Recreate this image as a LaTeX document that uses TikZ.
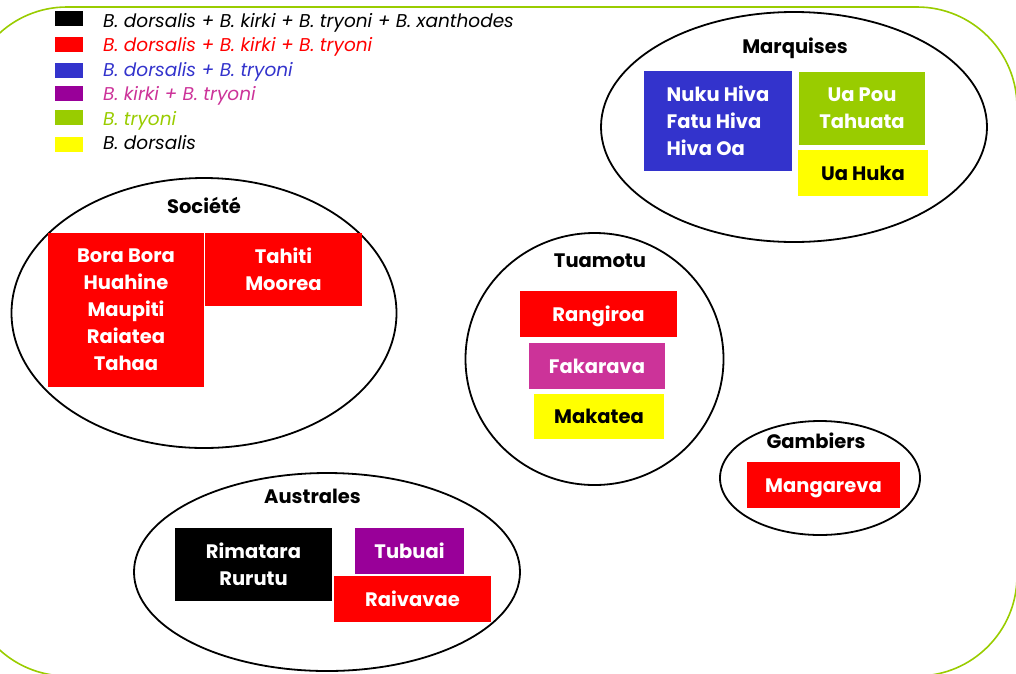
\documentclass[tikz,border=0pt]{standalone}
\usepackage{fontspec}
\setmainfont{Poppins}
\usetikzlibrary{shapes.geometric}
\definecolor{cgreen}{HTML}{99CC00}
\definecolor{cred}{HTML}{FF0000}
\definecolor{cblue}{HTML}{3333CC}
\definecolor{cpurple}{HTML}{990099}
\definecolor{cmagenta}{HTML}{CC3399}
\definecolor{cyellow}{HTML}{FFFF00}
\tikzset{
  frame/.style={draw=cgreen, line width=1.6pt, rounded corners=100pt},
  isle/.style={ellipse, draw=black, line width=1.8pt, inner sep=0pt},
  title/.style={anchor=base, font=\fontsize{19.5}{22}\selectfont\bfseries, text=black, inner sep=0pt},
  box/.style={rectangle, inner sep=0pt, text=white, align=center,
    font=\fontsize{19.5}{27}\selectfont\bfseries},
  one/.style={text height=14pt, text depth=0pt},
  swatch/.style={rectangle, inner sep=0pt, minimum width=28pt, minimum height=15pt},
  legtext/.style={anchor=base west, inner sep=0pt, font=\fontsize{18.5}{20}\selectfont\itshape}
}
\begin{document}
\begin{tikzpicture}[x=1pt,y=-1pt]
\useasboundingbox (0,0) rectangle (1016,673);
\begin{scope}
\clip (0,0) rectangle (1016,673);
\draw[frame] (-33,7) rectangle (1017,676);
\end{scope}

% legend
\node[swatch, fill=black]   (s1) at (69,18.5) {};
\node[swatch, fill=cred]    (s2) at (69,44.5) {};
\node[swatch, fill=cblue]   (s3) at (69,70) {};
\node[swatch, fill=cpurple] (s4) at (69,93.5) {};
\node[swatch, fill=cgreen]  (s5) at (69,117.5) {};
\node[swatch, fill=cyellow] (s6) at (69,144.5) {};
\node[legtext, text=black]    (l1) at (103,27) {B. dorsalis + B. kirki + B. tryoni + B. xanthodes};
\node[legtext, text=cred]     (l2) at (103,51.5) {B. dorsalis + B. kirki + B. tryoni};
\node[legtext, text=cblue]    (l3) at (103,76) {B. dorsalis + B. tryoni};
\node[legtext, text=cmagenta] (l4) at (103,100.5) {B. kirki + B. tryoni};
\node[legtext, text=cgreen]   (l5) at (103,125) {B. tryoni};
\node[legtext, text=black]    (l6) at (103,149) {B. dorsalis};

% Marquises
\node[isle, minimum width=386pt, minimum height=230pt] (marq) at (794,127) {};
\node[title] (tmarq) at (795,53) {Marquises};
\node[box, fill=cblue, minimum width=148pt, minimum height=100pt, align=left] (nuku) at (718,121) {Nuku Hiva\\Fatu Hiva\\Hiva Oa};
\node[box, fill=cgreen, minimum width=126pt, minimum height=73pt] (uapou) at (862,108.5) {Ua Pou\\Tahuata};
\node[box, one, fill=cyellow, text=black, minimum width=130pt, minimum height=46pt] (uahuka) at (863,173) {Ua Huka};

% Societe
\node[isle, minimum width=385pt, minimum height=270pt] (soc) at (204,313) {};
\node[title] (tsoc) at (204,213) {Société};
\node[box, fill=cred, minimum width=156pt, minimum height=154pt] (bora) at (126,310) {Bora Bora\\Huahine\\Maupiti\\Raiatea\\Tahaa};
\node[box, fill=cred, minimum width=157pt, minimum height=73pt] (tahiti) at (283.5,269.5) {Tahiti\\Moorea};

% Tuamotu
\node[isle, minimum width=258pt, minimum height=252pt] (tua) at (594.5,359) {};
\node[title] (ttua) at (600,267.5) {Tuamotu};
\node[box, one, fill=cred, minimum width=157pt, minimum height=46pt] (rang) at (598.5,314) {Rangiroa};
\node[box, one, fill=cmagenta, minimum width=136pt, minimum height=46pt] (faka) at (597,366) {Fakarava};
\node[box, one, fill=cyellow, text=black, minimum width=130pt, minimum height=45pt] (maka) at (599,416.5) {Makatea};

% Gambiers
\node[isle, minimum width=200pt, minimum height=114pt] (gam) at (820,478) {};
\node[title] (tgam) at (816,448) {Gambiers};
\node[box, one, fill=cred, minimum width=153pt, minimum height=46pt] (mang) at (823.5,485) {Mangareva};

% Australes
\node[isle, minimum width=386pt, minimum height=198pt] (aus) at (327,572) {};
\node[title] (taus) at (312.5,503) {Australes};
\node[box, fill=black, minimum width=157pt, minimum height=73pt] (rima) at (253.5,564.5) {Rimatara\\Rurutu};
\node[box, one, fill=cpurple, minimum width=109pt, minimum height=46pt] (tubu) at (409.5,551) {Tubuai};
\node[box, one, fill=cred, minimum width=157pt, minimum height=46pt] (raiv) at (412.5,599) {Raivavae};
\end{tikzpicture}
\end{document}
